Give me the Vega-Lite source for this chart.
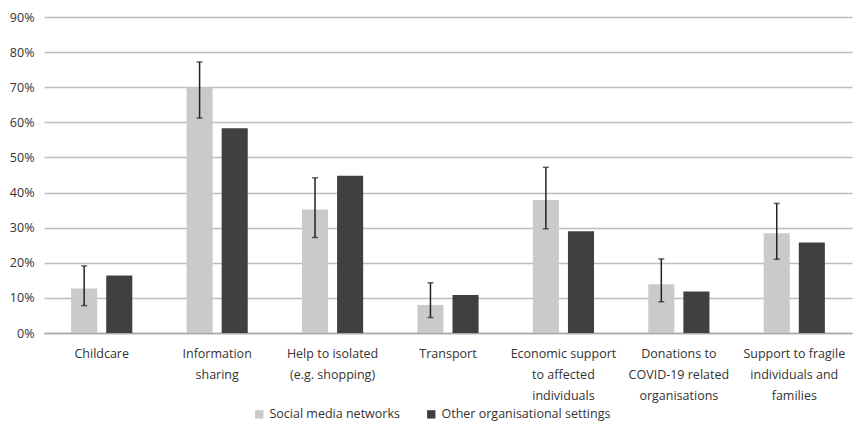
{
  "$schema": "https://vega.github.io/schema/vega-lite/v6.json",
  "width": 808,
  "height": 316,
  "autosize": "none",
  "padding": {"left": 44, "top": 17, "right": 2, "bottom": 90},
  "background": "white",
  "data": {
    "values": [
      {"category": "Childcare", "series": "Social media networks", "value": 0.127, "lo": 0.078, "hi": 0.191},
      {"category": "Childcare", "series": "Other organisational settings", "value": 0.164},
      {"category": "Information|sharing", "series": "Social media networks", "value": 0.70, "lo": 0.612, "hi": 0.772},
      {"category": "Information|sharing", "series": "Other organisational settings", "value": 0.583},
      {"category": "Help to isolated|(e.g. shopping)", "series": "Social media networks", "value": 0.352, "lo": 0.272, "hi": 0.442},
      {"category": "Help to isolated|(e.g. shopping)", "series": "Other organisational settings", "value": 0.448},
      {"category": "Transport", "series": "Social media networks", "value": 0.080, "lo": 0.044, "hi": 0.143},
      {"category": "Transport", "series": "Other organisational settings", "value": 0.108},
      {"category": "Economic support|to affected|individuals", "series": "Social media networks", "value": 0.379, "lo": 0.297, "hi": 0.472},
      {"category": "Economic support|to affected|individuals", "series": "Other organisational settings", "value": 0.290},
      {"category": "Donations to|COVID-19 related|organisations", "series": "Social media networks", "value": 0.139, "lo": 0.089, "hi": 0.211},
      {"category": "Donations to|COVID-19 related|organisations", "series": "Other organisational settings", "value": 0.118},
      {"category": "Support to fragile|individuals and|families", "series": "Social media networks", "value": 0.284, "lo": 0.210, "hi": 0.369},
      {"category": "Support to fragile|individuals and|families", "series": "Other organisational settings", "value": 0.258}
    ]
  },
  "encoding": {
    "x": {
      "field": "category",
      "type": "nominal",
      "sort": null,
      "scale": {"paddingInner": 0.47, "paddingOuter": 0.235},
      "axis": {
        "title": null,
        "labelAngle": 0,
        "labelExpr": "split(datum.label, '|')",
        "labelLineHeight": 21,
        "labelPadding": 14,
        "labelFont": "Open Sans",
        "labelFontSize": 12.5,
        "labelColor": "#333333",
        "labelLimit": 300,
        "ticks": false,
        "domainColor": "#a6a6a6",
        "domainWidth": 1.5,
        "grid": false
      }
    },
    "xOffset": {
      "field": "series",
      "type": "nominal",
      "sort": ["Social media networks", "Other organisational settings"],
      "scale": {"paddingInner": 0.257, "paddingOuter": 0}
    }
  },
  "layer": [
    {
      "mark": {"type": "bar"},
      "encoding": {
        "y": {
          "field": "value",
          "type": "quantitative",
          "scale": {"domain": [0, 0.9], "nice": false},
          "axis": {
            "title": null,
            "values": [0, 0.1, 0.2, 0.3, 0.4, 0.5, 0.6, 0.7, 0.8, 0.9],
            "format": ".0%",
            "labelOverlap": false,
            "domain": false,
            "ticks": false,
            "labelPadding": 10,
            "labelFont": "Open Sans",
            "labelFontSize": 12.5,
            "labelColor": "#333333",
            "gridColor": "#bdbdbd",
            "gridWidth": 1.4
          }
        },
        "color": {
          "field": "series",
          "type": "nominal",
          "sort": ["Social media networks", "Other organisational settings"],
          "scale": {"range": ["#cacaca", "#404040"]},
          "legend": {
            "title": null,
            "orient": "none",
            "direction": "horizontal",
            "legendX": 209,
            "legendY": 391,
            "symbolType": "square",
            "symbolSize": 70,
            "symbolStrokeWidth": 0,
            "labelFont": "Open Sans",
            "labelFontSize": 12.5,
            "labelColor": "#333333",
            "labelLimit": 300,
            "columnPadding": 25,
            "labelOffset": 4
          }
        }
      }
    },
    {
      "transform": [{"filter": "isValid(datum.lo)"}],
      "mark": {"type": "rule", "color": "#222222", "strokeWidth": 1.5},
      "encoding": {
        "y": {
          "field": "lo",
          "type": "quantitative",
          "axis": {
            "title": null,
            "values": [0, 0.1, 0.2, 0.3, 0.4, 0.5, 0.6, 0.7, 0.8, 0.9],
            "format": ".0%",
            "labelOverlap": false,
            "domain": false,
            "ticks": false,
            "labelPadding": 10,
            "labelFont": "Open Sans",
            "labelFontSize": 12.5,
            "labelColor": "#333333",
            "gridColor": "#bdbdbd",
            "gridWidth": 1.4
          }
        },
        "y2": {"field": "hi"}
      }
    },
    {
      "transform": [{"filter": "isValid(datum.lo)"}],
      "mark": {"type": "tick", "color": "#222222", "thickness": 1.5, "size": 6},
      "encoding": {
        "y": {
          "field": "lo",
          "type": "quantitative",
          "axis": {
            "title": null,
            "values": [0, 0.1, 0.2, 0.3, 0.4, 0.5, 0.6, 0.7, 0.8, 0.9],
            "format": ".0%",
            "labelOverlap": false,
            "domain": false,
            "ticks": false,
            "labelPadding": 10,
            "labelFont": "Open Sans",
            "labelFontSize": 12.5,
            "labelColor": "#333333",
            "gridColor": "#bdbdbd",
            "gridWidth": 1.4
          }
        }
      }
    },
    {
      "transform": [{"filter": "isValid(datum.hi)"}],
      "mark": {"type": "tick", "color": "#222222", "thickness": 1.5, "size": 6},
      "encoding": {
        "y": {
          "field": "hi",
          "type": "quantitative",
          "axis": {
            "title": null,
            "values": [0, 0.1, 0.2, 0.3, 0.4, 0.5, 0.6, 0.7, 0.8, 0.9],
            "format": ".0%",
            "labelOverlap": false,
            "domain": false,
            "ticks": false,
            "labelPadding": 10,
            "labelFont": "Open Sans",
            "labelFontSize": 12.5,
            "labelColor": "#333333",
            "gridColor": "#bdbdbd",
            "gridWidth": 1.4
          }
        }
      }
    }
  ],
  "config": {
    "view": {"stroke": null}
  }
}
